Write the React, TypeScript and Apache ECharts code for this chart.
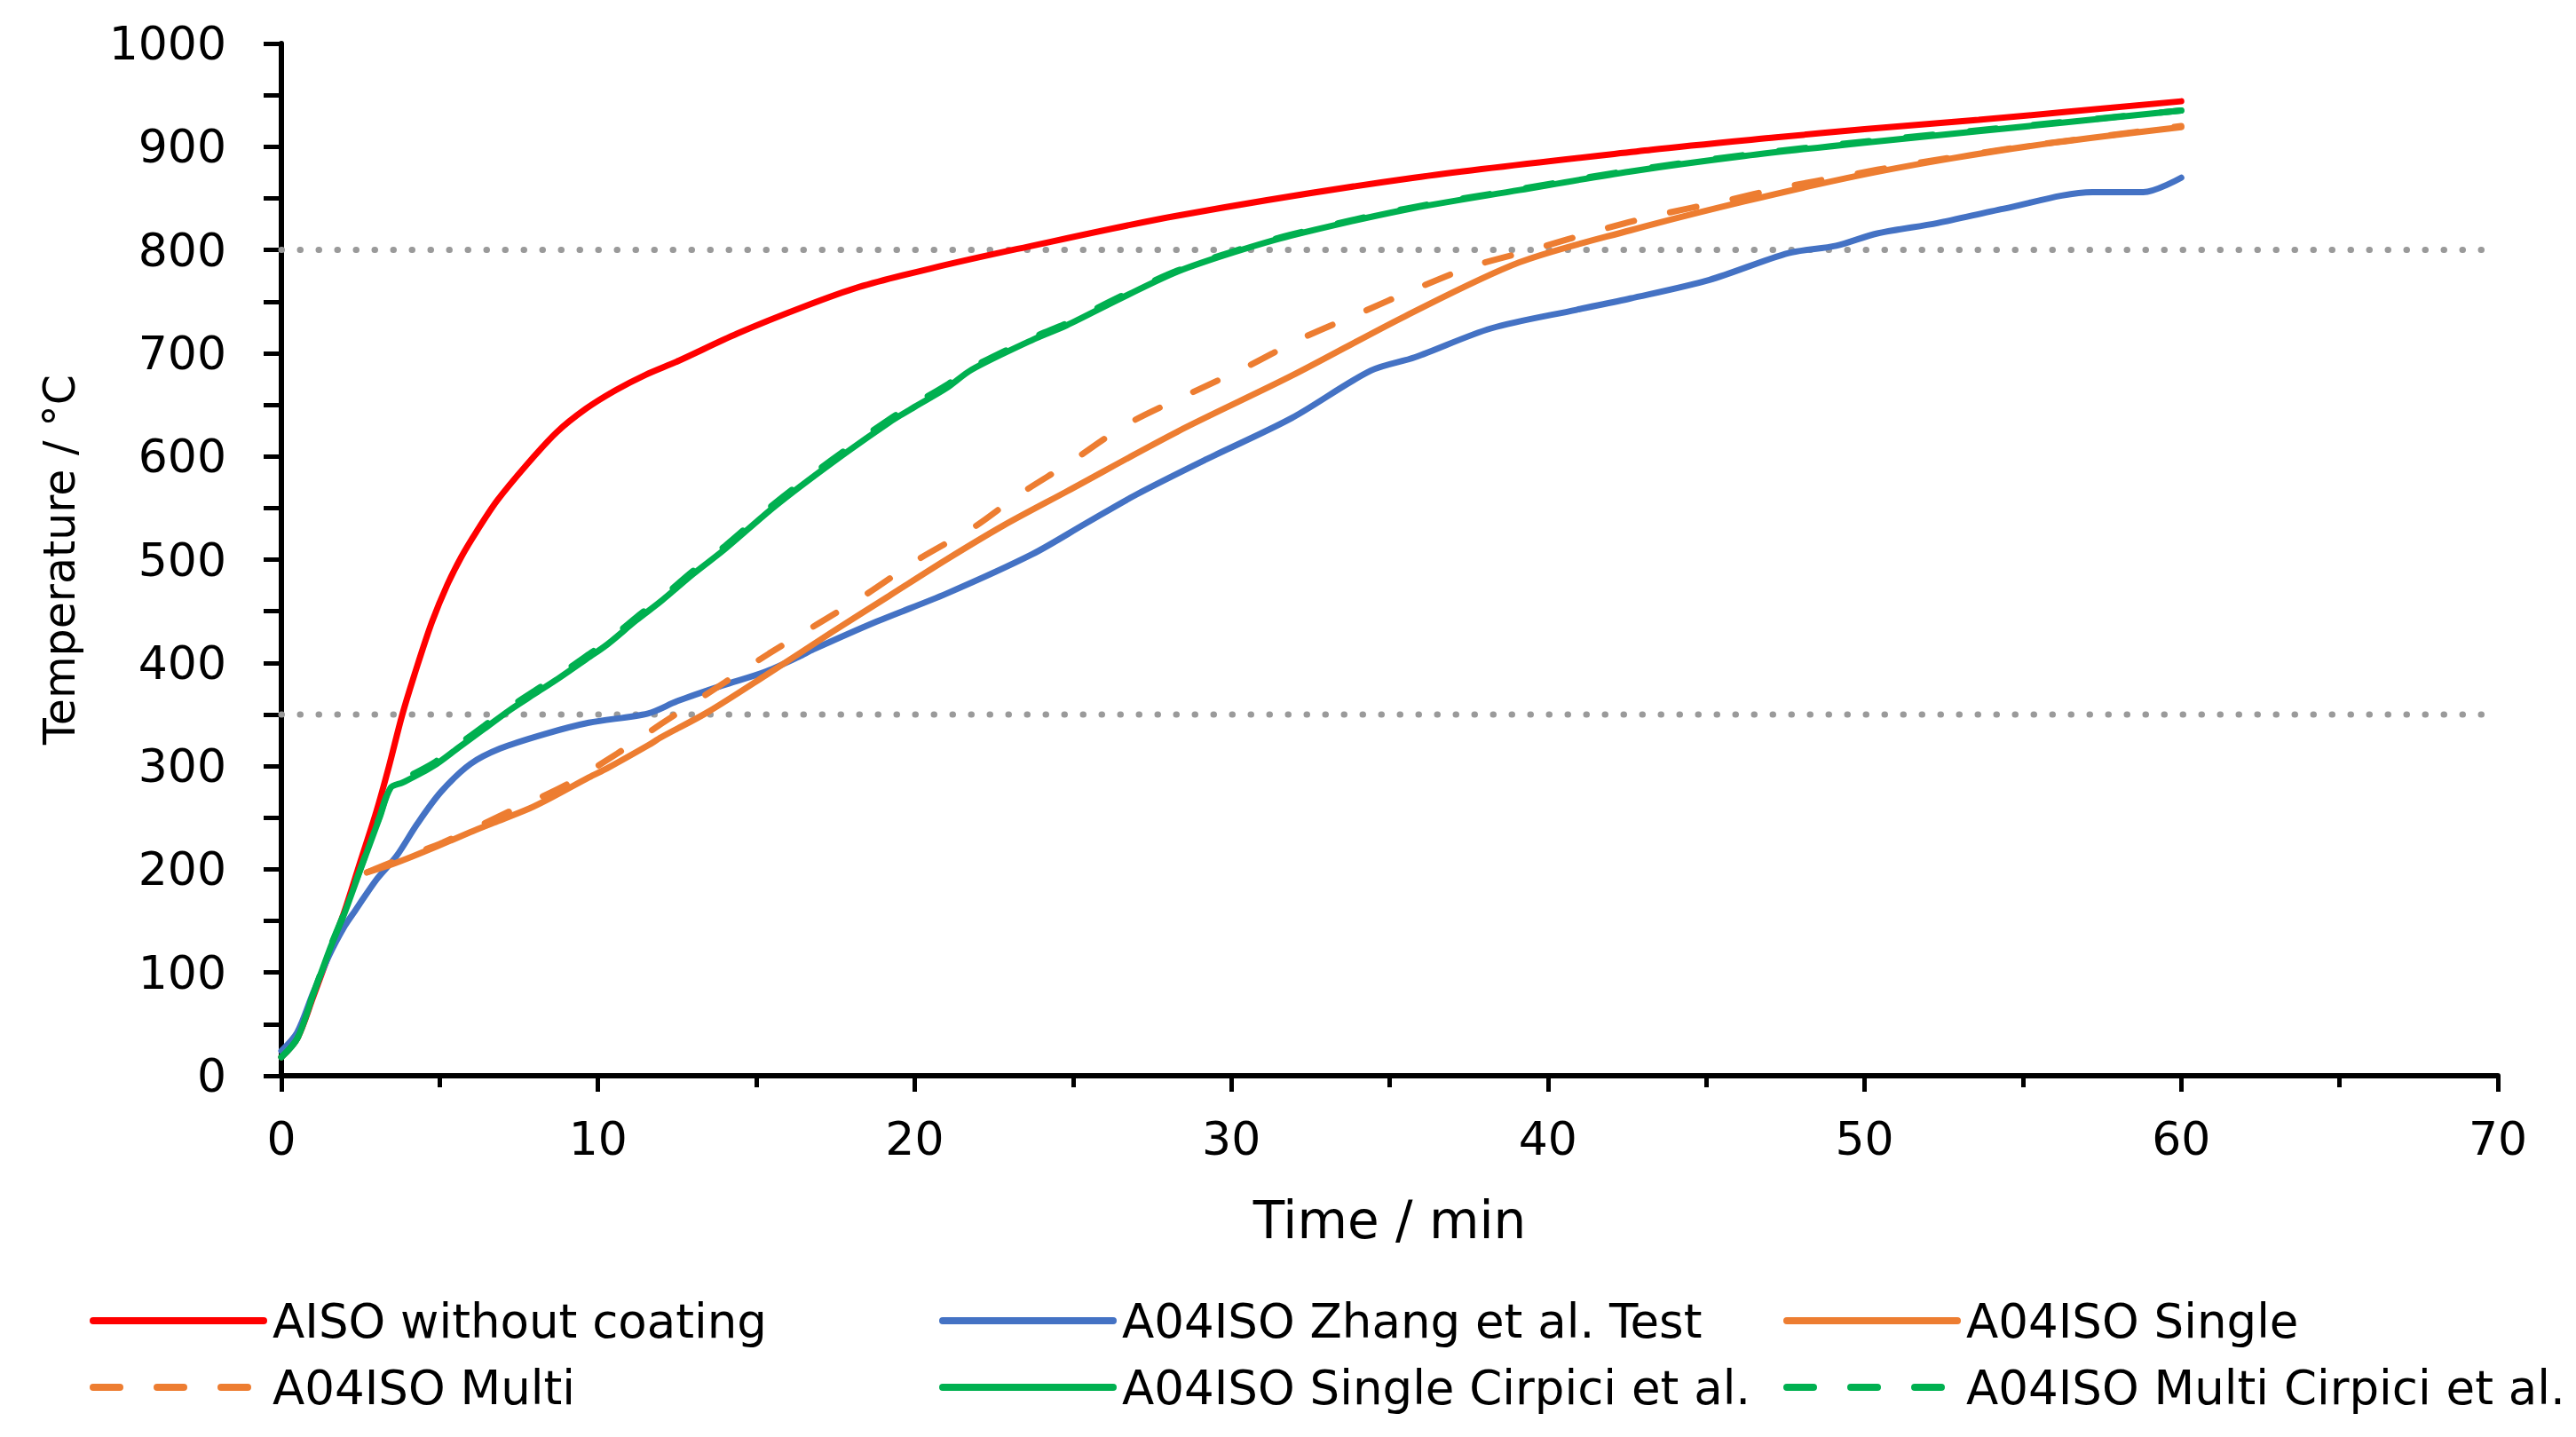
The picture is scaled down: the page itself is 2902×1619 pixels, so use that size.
import { useEffect, useRef } from 'react';
import * as echarts from 'echarts';

const FONT = '"DejaVu Sans", "Noto Sans", sans-serif';

const seriesNames = [
  'AISO without coating',
  'A04ISO Zhang et al. Test',
  'A04ISO Single',
  'A04ISO Multi',
  'A04ISO Single Cirpici et al.',
  'A04ISO Multi Cirpici et al.',
];

// [time (min), temperature (°C)]
const aisoWithoutCoating = [
  [0, 18], [0.5, 36], [1, 76], [1.5, 118], [2, 160], [2.5, 208], [3, 256], [3.4, 300],
  [3.82, 350], [4.29, 397], [4.76, 440], [5.23, 475], [5.69, 503], [6.16, 527], [6.81, 557],
  [7.75, 592], [8.68, 623], [9.61, 646], [10.55, 664], [11.5, 679], [12.5, 692], [14.4, 719],
  [16.5, 745], [18.24, 764], [20.5, 782], [23.25, 801], [28.26, 833], [35.77, 870],
  [43.27, 897], [47.2, 909], [50, 917], [53.6, 926], [60, 944],
];

const zhangTest = [
  [0, 24], [0.5, 42], [1, 80], [1.5, 116], [2, 145], [2.33, 160], [3, 190], [3.64, 213],
  [4.29, 244], [5.04, 275], [5.97, 302], [6.91, 317], [8.31, 331], [9.71, 342], [11.58, 351],
  [12.51, 363], [13.92, 378], [15.25, 391], [16.35, 406], [16.8, 413], [18.8, 440],
  [21, 467], [23.7, 505], [25.4, 535], [27, 563], [29.2, 597], [31.9, 637], [34.4, 683],
  [35.8, 696], [38.2, 724], [40.9, 742], [42.6, 753], [45.1, 771], [47.6, 797], [49.1, 804],
  [50.4, 816], [52.3, 826], [54.4, 840], [57.2, 856], [58.8, 856], [60, 870],
];

const a04Single = [
  [2.7, 197], [3.5, 205], [4.1, 212], [4.9, 222], [5.97, 236], [6.7, 245], [7.84, 259],
  [8.5, 269], [9.71, 289], [10.3, 298], [11.58, 320], [12, 328], [13.45, 352], [15.3, 388],
  [17.4, 430], [19.2, 465], [21, 500], [22.8, 533], [24.8, 566], [28.3, 624], [31.9, 678],
  [35.5, 736], [39.1, 788], [42.6, 819], [46.2, 847], [49.8, 872], [52.8, 889], [56, 904], [60, 919],
];

const a04Multi = [
  [2.7, 197], [3.5, 207], [5.1, 226], [7.2, 256], [9, 282], [10.6, 312], [12, 341],
  [14, 381], [15.4, 409], [16.9, 437], [18.5, 467], [20.1, 500], [21.9, 532], [23.3, 563],
  [24.9, 594], [26.7, 631], [28.7, 661], [30.5, 687], [32.2, 714], [34, 738], [35.8, 762],
  [37.6, 784], [39.6, 801], [41.6, 819], [43.5, 834], [45.5, 847], [47.5, 861], [49.4, 872],
  [51.4, 883], [55, 900], [60, 920],
];

const cirpiciSingle = [
  [0, 18], [0.5, 36], [1, 78], [1.56, 125], [2, 158], [2.5, 200], [3.1, 250], [3.45, 279],
  [3.83, 284], [4.8, 300], [5.6, 318], [6.4, 336], [7.2, 354], [8, 370], [8.8, 386],
  [9.6, 403], [10.3, 418], [11.2, 441], [12, 460], [13, 486], [14, 510], [15.6, 552],
  [17.4, 594], [19.2, 633], [20, 648], [21, 666], [21.8, 684], [23.8, 714], [24.8, 727],
  [26.5, 753], [28.3, 779], [30.1, 798], [31.9, 814], [35.5, 839], [39.1, 858], [42.6, 876],
  [46.2, 891], [50, 904], [53.6, 915], [60, 935],
];

const cirpiciMulti = [
  [0, 18], [0.5, 36], [1, 79], [1.56, 126], [2, 159], [2.5, 201], [3.1, 251], [3.45, 280],
  [3.83, 287], [4.8, 303], [5.6, 321], [6.4, 339], [7.2, 357], [8, 373], [8.8, 389],
  [9.6, 406], [10.3, 421], [11.2, 444], [12, 463], [13, 489], [14, 513], [15.6, 555],
  [17.4, 597], [19.2, 636], [20, 651], [21, 669], [21.8, 686], [23.8, 716], [24.8, 729],
  [26.5, 755], [28.3, 780], [30.1, 799], [31.9, 815], [35.5, 840], [39.1, 859], [42.6, 877],
  [46.2, 892], [50, 905], [53.6, 916], [60, 935],
];

// horizontal reference levels
const refLevels = [800, 350];

const colors = ['#FF0000', '#4472C4', '#ED7D31', '#ED7D31', '#00B050', '#00B050'];
const dashed = [false, false, false, true, false, true];
const seriesData = [aisoWithoutCoating, zhangTest, a04Single, a04Multi, cirpiciSingle, cirpiciMulti];

const legendLeft = [96, 1053, 2004];

export default function App() {
  const chartRef = useRef<HTMLDivElement>(null);

  useEffect(() => {
    document.body.style.margin = '0';
    if (!chartRef.current) return;
    const chart = echarts.init(chartRef.current, undefined, { renderer: 'svg' });

    const axisColor = '#000';

    const option: echarts.EChartsOption = {
      animation: false,
      backgroundColor: '#fff',
      grid: { left: 317, right: 88, top: 49, bottom: 407, containLabel: false },
      xAxis: {
        type: 'value',
        min: 0,
        max: 70,
        interval: 10,
        name: 'Time / min',
        nameLocation: 'middle',
        nameGap: 134,
        nameTextStyle: { fontFamily: FONT, fontSize: 58, color: axisColor },
        axisLine: { show: true, onZero: false, lineStyle: { color: axisColor, width: 6 } },
        axisTick: { show: true, length: 18, lineStyle: { color: axisColor, width: 5 } },
        minorTick: { show: true, splitNumber: 2, length: 13, lineStyle: { color: axisColor, width: 5 } },
        axisLabel: { fontFamily: FONT, fontSize: 52, color: axisColor, margin: 45 },
        splitLine: { show: false },
        minorSplitLine: { show: false },
      },
      yAxis: {
        type: 'value',
        min: 0,
        max: 1000,
        interval: 50,
        name: 'Temperature / °C',
        nameLocation: 'middle',
        nameGap: 225,
        nameRotate: 90,
        nameTextStyle: { fontFamily: FONT, fontSize: 49, color: axisColor },
        axisLine: { show: true, onZero: false, lineStyle: { color: axisColor, width: 6 } },
        axisTick: { show: true, length: 20, lineStyle: { color: axisColor, width: 5 } },
        axisLabel: {
          fontFamily: FONT,
          fontSize: 52,
          color: axisColor,
          margin: 62,
          formatter: (v: number) => (v % 100 === 0 ? String(v) : ''),
        },
        splitLine: { show: false },
      },
      legend: legendLeft.map((left, col) => ({
        data: [seriesNames[col], seriesNames[col + 3]],
        orient: 'vertical',
        left,
        top: 1453,
        itemWidth: 192,
        itemHeight: 14,
        itemGap: 15,
        selectedMode: false,
        itemStyle: { opacity: 0 },
        lineStyle: { width: 8 },
        textStyle: {
          fontFamily: FONT,
          fontSize: 53,
          color: '#000',
          lineHeight: 60,
          padding: [0, 0, 0, 5],
        },
      })) as any,
      series: [
        ...refLevels.map((level, i) => ({
          name: 'ref' + i,
          type: 'line' as const,
          data: [[0, level], [70, level]],
          symbol: 'none',
          silent: true,
          lineStyle: { color: '#9a9a9a', width: 7, type: [0.5, 20.5], cap: 'round' },
          z: 1,
        })),
        ...seriesNames.map((name, i) => ({
          name,
          type: 'line' as const,
          data: seriesData[i],
          symbol: 'none',
          smooth: 0.3,
          color: colors[i],
          lineStyle: {
            color: colors[i],
            width: 7,
            type: dashed[i] ? [30, 42] : 'solid',
            cap: 'round',
          },
          z: 2 + i,
        })),
      ] as any,
    };

    chart.setOption(option);

    const handleResize = () => chart.resize();
    window.addEventListener('resize', handleResize);
    return () => {
      window.removeEventListener('resize', handleResize);
      chart.dispose();
    };
  }, []);

  return <div ref={chartRef} style={{ width: '2902px', height: '1619px' }} />;
}
